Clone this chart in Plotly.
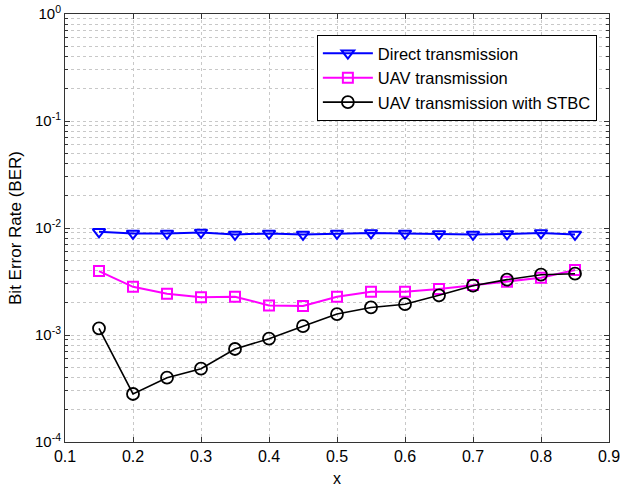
import plotly.graph_objects as go

x_vals = [0.15, 0.2, 0.25, 0.3, 0.35, 0.4, 0.45, 0.5, 0.55, 0.6, 0.65, 0.7, 0.75, 0.8, 0.85]
direct_ber = [9.2e-3, 8.9e-3, 8.9e-3, 9.1e-3, 8.7e-3, 8.9e-3, 8.7e-3, 8.9e-3, 9.0e-3, 8.9e-3, 8.8e-3, 8.7e-3, 8.8e-3, 9.0e-3, 8.7e-3]
uav_ber = [3.96e-3, 2.82e-3, 2.43e-3, 2.25e-3, 2.28e-3, 1.89e-3, 1.87e-3, 2.28e-3, 2.54e-3, 2.54e-3, 2.69e-3, 2.93e-3, 3.15e-3, 3.43e-3, 4.05e-3]
stbc_ber = [1.155e-3, 2.81e-4, 3.99e-4, 4.84e-4, 7.4e-4, 9.24e-4, 1.21e-3, 1.57e-3, 1.81e-3, 1.94e-3, 2.35e-3, 2.89e-3, 3.29e-3, 3.66e-3, 3.74e-3]

x_ticks = [0.1, 0.2, 0.3, 0.4, 0.5, 0.6, 0.7, 0.8, 0.9]
x_ticklabels = ["0.1", "0.2", "0.3", "0.4", "0.5", "0.6", "0.7", "0.8", "0.9"]
y_ticks = [1e-4, 1e-3, 1e-2, 1e-1, 1]
y_ticklabels = ["10<sup>-4</sup>", "10<sup>-3</sup>", "10<sup>-2</sup>", "10<sup>-1</sup>", "10<sup>0</sup>"]

FONT = "Liberation Sans"
fig = go.Figure()
fig.add_trace(go.Scatter(x=x_vals, y=direct_ber, mode="lines+markers", name="Direct transmission",
                         line=dict(color="#0000ff", width=2),
                         marker=dict(symbol="triangle-down-open", size=11, color="#0000ff", line=dict(width=2, color="#0000ff"))))
fig.add_trace(go.Scatter(x=x_vals, y=uav_ber, mode="lines+markers", name="UAV transmission",
                         line=dict(color="#ff00ff", width=2),
                         marker=dict(symbol="square-open", size=10, color="#ff00ff", line=dict(width=2, color="#ff00ff"))))
fig.add_trace(go.Scatter(x=x_vals, y=stbc_ber, mode="lines+markers", name="UAV transmission with STBC",
                         line=dict(color="#000000", width=1.6),
                         marker=dict(symbol="circle-open", size=12, color="#000000", line=dict(width=1.8, color="#000000"))))

grid_col = "#c8c8c8"
fig.update_xaxes(range=[0.1, 0.9], tickvals=x_ticks, ticktext=x_ticklabels,
                 showline=True, linecolor="#333333", linewidth=1, mirror="ticks",
                 ticks="inside", ticklen=5, tickcolor="#333333",
                 showgrid=True, gridcolor=grid_col, griddash="dot", gridwidth=1,
                 zeroline=False, automargin=False, ticklabeloverflow="allow",
                 tickfont=dict(family=FONT, size=16, color="black"),
                 title=dict(text="x", font=dict(family=FONT, size=16, color="black"), standoff=8))
fig.update_yaxes(type="log", range=[-4, 0], tickvals=y_ticks, ticktext=y_ticklabels,
                 showline=True, linecolor="#333333", linewidth=1, mirror="ticks",
                 ticks="inside", ticklen=5, tickcolor="#333333",
                 showgrid=True, gridcolor=grid_col, griddash="dot", gridwidth=1,
                 minor=dict(dtick="D1", showgrid=True, gridcolor=grid_col, griddash="dot",
                            ticks="inside", ticklen=3, tickcolor="#333333"),
                 zeroline=False, automargin=False, ticklabeloverflow="allow",
                 tickfont=dict(family=FONT, size=15, color="black"),
                 title=dict(text="Bit Error Rate (BER)", font=dict(family=FONT, size=17, color="black"), standoff=9))
fig.update_layout(width=620, height=487,
                  margin=dict(l=65, r=11, t=14, b=45),
                  paper_bgcolor="white", plot_bgcolor="white",
                  font=dict(family=FONT, size=16, color="black"),
                  showlegend=True,
                  legend=dict(x=0.463, y=0.951, xanchor="left", yanchor="top",
                              bgcolor="white", bordercolor="black", borderwidth=1,
                              font=dict(family=FONT, size=16.5, color="black"),
                              tracegroupgap=0, itemwidth=50))
fig.write_html("out.html", config={"displayModeBar": False},
               post_script="document.body.style.margin='0';document.body.style.overflow='hidden';")
